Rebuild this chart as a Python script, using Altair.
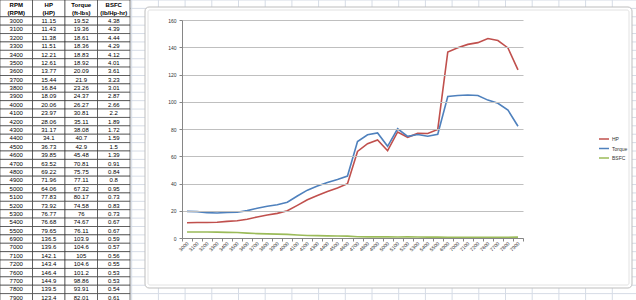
import altair as alt
import pandas as pd

# ---------------- data ----------------
rpm = [3000, 3100, 3200, 3300, 3400, 3500, 3600, 3700, 3800, 3900,
       4000, 4100, 4200, 4300, 4400, 4500, 4600, 4700, 4800, 4900,
       5000, 5100, 5200, 5300, 5400, 5500, 6900, 7000, 7100, 7200,
       7600, 7700, 7800, 7900]
hp = [11.15, 11.43, 11.38, 11.51, 12.21, 12.61, 13.77, 15.44, 16.84, 18.09,
      20.06, 23.97, 28.06, 31.17, 34.1, 36.73, 39.85, 63.52, 69.22, 71.96,
      64.06, 77.83, 73.92, 76.77, 76.68, 79.65, 136.5, 139.6, 142.1, 143.4,
      146.4, 144.9, 139.5, 123.4]
torque = [19.52, 19.36, 18.61, 18.36, 18.83, 18.92, 20.09, 21.9, 23.26, 24.37,
          26.27, 30.81, 35.11, 38.08, 40.7, 42.9, 45.48, 70.81, 75.75, 77.11,
          67.32, 80.17, 74.58, 76, 74.67, 76.11, 103.9, 104.6, 105, 104.6,
          101.2, 98.86, 93.91, 82.01]
bsfc = [4.38, 4.39, 4.44, 4.29, 4.12, 4.01, 3.61, 3.23, 3.01, 2.87,
        2.66, 2.2, 1.89, 1.72, 1.59, 1.5, 1.39, 0.91, 0.84, 0.8,
        0.95, 0.73, 0.83, 0.73, 0.67, 0.67, 0.59, 0.57, 0.56, 0.55,
        0.53, 0.53, 0.54, 0.61]

header_top = ["RPM", "HP", "Torque", "BSFC"]
header_units = ["(RPM)", "(HP)", "(ft-lbs)", "(lb/Hp-hr)"]
series_names = ["HP", "Torque", "BSFC"]
series_colors = ["#C0504D", "#4F81BD", "#9BBB59"]
y_ticks = [0, 20, 40, 60, 80, 100, 120, 140, 160]

FONT = "Liberation Sans"
N_ROWS = len(rpm) + 2

# ---------------- table data ----------------
def fmt(v):
    return f"{v:g}"

cells, texts = [], []
for c in range(4):
    cells.append({"c0": c, "c1": c + 1, "r0": 0, "r1": 2})
    texts.append({"xc": c + 0.5, "yc": 0.55, "label": header_top[c], "bold": 1})
    texts.append({"xc": c + 0.5, "yc": 1.5, "label": header_units[c], "bold": 1})
for i in range(len(rpm)):
    row = [str(rpm[i]), fmt(hp[i]), fmt(torque[i]), fmt(bsfc[i])]
    r = i + 2
    for c in range(4):
        cells.append({"c0": c, "c1": c + 1, "r0": r, "r1": r + 1})
        texts.append({"xc": c + 0.5, "yc": r + 0.5, "label": row[c], "bold": 0})
cells_df = pd.DataFrame(cells)
texts_df = pd.DataFrame(texts)

tx = alt.Scale(domain=[0, 4], range=[0, 130], nice=False, zero=False)
ty = alt.Scale(domain=[0, N_ROWS], range=[0, 302], nice=False, zero=False)

# spreadsheet background grid (rows and columns of the sheet)
sheet_rows = pd.DataFrame({"r": list(range(N_ROWS + 1)), "a": 4, "b": 20})
sheet_cols = pd.DataFrame({"k": list(range(20)), "t": 0, "u": N_ROWS})

sheet_h = alt.Chart(sheet_rows).mark_rule(color="#D6DCE6", strokeWidth=1).encode(
    x=alt.X("a:Q", scale=tx, axis=None),
    x2="b:Q",
    y=alt.Y("r:Q", scale=ty, axis=None),
)
sheet_v = alt.Chart(sheet_cols).mark_rule(color="#D6DCE6", strokeWidth=1).encode(
    x=alt.X("k:Q", scale=alt.Scale(domain=[0, 19], range=[131.7, 639], nice=False, zero=False), axis=None),
    y=alt.Y("t:Q", scale=ty, axis=None),
    y2="u:Q",
)

table_cells = alt.Chart(cells_df).mark_rect(fill="white", stroke="#222222", strokeWidth=0.6).encode(
    x=alt.X("c0:Q", scale=tx, axis=None),
    x2="c1:Q",
    y=alt.Y("r0:Q", scale=ty, axis=None),
    y2="r1:Q",
)

table_text_plain = alt.Chart(texts_df).transform_filter("datum.bold == 0").mark_text(
    font=FONT, fontSize=6, color="#000000", align="center", baseline="middle"
).encode(
    x=alt.X("xc:Q", scale=tx, axis=None),
    y=alt.Y("yc:Q", scale=ty, axis=None),
    text="label:N",
)
table_text_bold = alt.Chart(texts_df).transform_filter("datum.bold == 1").mark_text(
    font=FONT, fontSize=6, fontWeight="bold", color="#000000", align="center", baseline="middle"
).encode(
    x=alt.X("xc:Q", scale=tx, axis=None),
    y=alt.Y("yc:Q", scale=ty, axis=None),
    text="label:N",
)

# ---------------- chart frame ----------------
one = pd.DataFrame({"k": [0]})
frame = alt.Chart(one).mark_rect(fill="white", stroke="#BDBDBD", strokeWidth=1, cornerRadius=4).encode(
    x=alt.value(145), x2=alt.value(632), y=alt.value(7), y2=alt.value(288)
)
frame_inner = alt.Chart(one).mark_rect(fill="white", stroke="#E2E2E2", strokeWidth=1, cornerRadius=2).encode(
    x=alt.value(148), x2=alt.value(629), y=alt.value(10), y2=alt.value(285)
)

# ---------------- line chart ----------------
rpm_labels = [str(v) for v in rpm]
long_rows = []
for name, vals in zip(series_names, [hp, torque, bsfc]):
    for lab, v in zip(rpm_labels, vals):
        long_rows.append({"rpm": lab, "series": name, "value": v})
long_df = pd.DataFrame(long_rows)

lines = alt.Chart(long_df).mark_line(strokeWidth=1.6).encode(
    x=alt.X(
        "rpm:N", sort=rpm_labels,
        scale=alt.Scale(type="band", range=[182, 523], paddingInner=0, paddingOuter=0),
        axis=alt.Axis(
            title=None, offset=-62, labelAngle=-45, labelAlign="right", labelBaseline="middle",
            labelFontSize=5, labelFont=FONT, labelColor="#333333", labelPadding=1,
            labelOverlap=False, tickBand="extent", tickSize=3, tickColor="#868686",
            domainColor="#868686", grid=False, zindex=1,
        ),
    ),
    y=alt.Y(
        "value:Q",
        scale=alt.Scale(domain=[0, 160], range=[238, 20], nice=False),
        axis=alt.Axis(
            title=None, offset=-182, values=y_ticks, labelFontSize=5, labelFont=FONT,
            labelColor="#333333", labelPadding=3, tickSize=3, tickColor="#868686",
            domainColor="#868686", grid=True, gridColor="#BFBFBF", gridWidth=1, zindex=1,
        ),
    ),
    color=alt.Color(
        "series:N", sort=series_names,
        scale=alt.Scale(domain=series_names, range=series_colors),
        legend=alt.Legend(
            title=None, orient="none", legendX=598, legendY=133, symbolType="stroke",
            symbolSize=100, symbolStrokeWidth=1.5, labelFontSize=5, labelFont=FONT,
            labelColor="#333333", rowPadding=0.5, labelOffset=2,
        ),
    ),
)

chart = alt.layer(
    sheet_h, sheet_v, table_cells, table_text_plain, table_text_bold,
    frame, frame_inner, lines,
).resolve_scale(
    x="independent", y="independent", color="independent"
).properties(
    width=636, height=300, padding=0, autosize="none", background="white"
).configure_view(stroke=None)

chart.save("out.html", embed_options={"renderer": "svg", "actions": False})
